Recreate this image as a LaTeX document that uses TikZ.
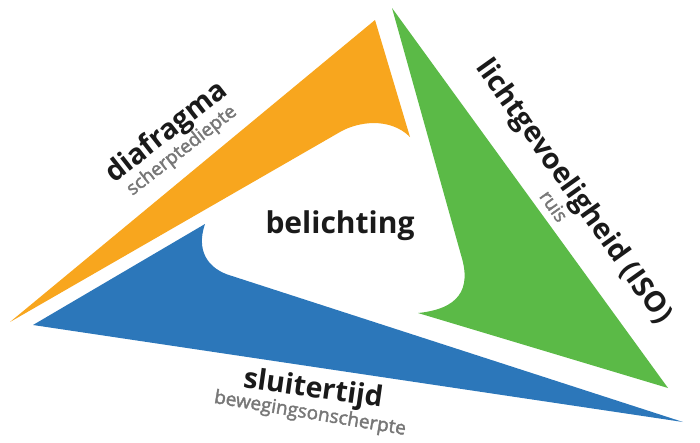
\documentclass[tikz,border=0pt]{standalone}
\usepackage{fontspec}
\setmainfont{Open Sans}
\newfontfamily\semib{Open Sans}[FakeBold=2]
\definecolor{orng}{HTML}{F8A61E}
\definecolor{grn}{HTML}{5BBA47}
\definecolor{blu}{HTML}{2C77BA}
\definecolor{txt}{HTML}{1A1A1A}
\definecolor{sub}{HTML}{777777}
\begin{document}
\begin{tikzpicture}[x=1pt,y=-1pt,
  title/.style={font=\fontsize{28.5}{30}\selectfont\bfseries, text=txt, inner sep=0pt},
  subtitle/.style={font=\fontsize{19}{21}\selectfont\semib, text=sub, inner sep=0pt}]
\useasboundingbox (0,0) rectangle (700,442);
% orange wedge
\fill[orng] (10,322) -- (375,20) -- (410,137)
  .. controls (390,117) and (358,121.5) .. (340,132) -- cycle;
% green wedge
\fill[grn] (392,8) -- (668,388) -- (418,313)
  .. controls (458,309) and (472,290) .. (461,255) -- cycle;
% blue wedge
\fill[blu] (33,325) -- (205,224)
  .. controls (196,250) and (207,269) .. (232,276) -- (683,422) -- cycle;
% texts
\node[title, font=\fontsize{30}{32}\selectfont\bfseries] (bel) at (340,226) {belichting};
\node[title, rotate=38] (dia) at (167,133) {diafragma};
\node[subtitle, rotate=38] (sch) at (182,151) {scherptediepte};
\node[title, rotate=-54.5] (iso) at (573,192) {lichtgevoeligheid (ISO)};
\node[subtitle, rotate=-54.5] (ruis) at (554,206) {ruis};
\node[title, rotate=-8] (slu) at (313,390) {sluitertijd};
\node[subtitle, rotate=-9.5] (bew) at (310,414) {bewegingsonscherpte};
\end{tikzpicture}
\end{document}
